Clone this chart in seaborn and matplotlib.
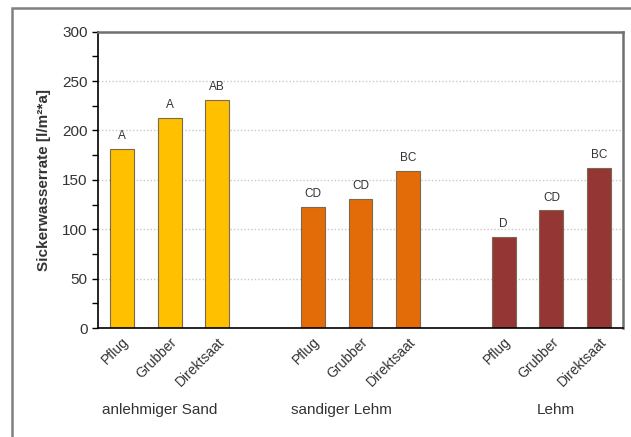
import pandas as pd
import matplotlib.pyplot as plt
from matplotlib.patches import Rectangle
import matplotlib.transforms as mtransforms
import seaborn as sns

soils = ["anlehmiger Sand", "sandiger Lehm", "Lehm"]
methods = ["Pflug", "Grubber", "Direktsaat"]
values_sand = [181, 213, 231]
values_sandlehm = [123, 131, 159]
values_lehm = [92, 119, 162]
letters = ["A", "A", "AB", "CD", "CD", "BC", "D", "CD", "BC"]
colors = ["#FFC000", "#E36C09", "#943634"]

# slot positions with one empty slot between the soil groups
positions = [0, 1, 2, 4, 5, 6, 8, 9, 10]

df = pd.DataFrame({
    "pos": positions,
    "value": values_sand + values_sandlehm + values_lehm,
    "soil": [s for s in soils for _ in methods],
    "method": methods * 3,
})

sns.set_style("white")
plt.rcParams["font.family"] = ["Liberation Sans", "DejaVu Sans"]

fig = plt.figure(figsize=(6.31, 4.37), dpi=100)
ax = fig.add_axes([0.1553, 0.2494, 0.8320, 0.6781])

sns.barplot(data=df, x="pos", y="value", hue="soil", native_scale=True,
            dodge=False, width=0.5, palette=colors, saturation=1, legend=False,
            edgecolor="#7a6a50", linewidth=0.8, ax=ax)

ax.set_xlim(-0.5, 10.5)
ax.set_ylim(0, 300)
ax.set_yticks(range(0, 301, 50))
ax.set_yticks(range(25, 300, 50), minor=True)
ax.yaxis.grid(True, which="major", linestyle=(0, (1, 1.5)), color="#c8c8c8", linewidth=1)
ax.set_axisbelow(True)

ax.set_xticks(positions)
ax.set_xticklabels(methods * 3, rotation=45, ha="right", rotation_mode="anchor",
                   fontsize=10, color="#333333")
ax.set_xticks([p - 0.5 for p in range(12)], minor=True)
ax.tick_params(axis="x", which="major", length=0, pad=5)
ax.tick_params(axis="x", which="minor", length=4, width=1, direction="out", color="black")
ax.tick_params(axis="y", which="both", length=4, width=1, direction="out", color="black",
               left=True, labelsize=11, labelcolor="#333333")
ax.set_xlabel("")
ax.set_ylabel("Sickerwasserrate [l/m²*a]", fontsize=11, fontweight="bold",
              labelpad=8, color="#333333")

for side in ["left", "bottom"]:
    ax.spines[side].set_color("black")
    ax.spines[side].set_linewidth(1.2)
for side in ["top", "right"]:
    ax.spines[side].set_color("#707070")
    ax.spines[side].set_linewidth(1.8)

for p, v, t in zip(df["pos"], df["value"], letters):
    ax.annotate(t, (p, v), xytext=(0, 5), textcoords="offset points",
                ha="center", va="bottom", fontsize=8.5, color="#333333")

trans = mtransforms.blended_transform_factory(ax.transData, ax.transAxes)
for x, s in zip([0.8, 4.6, 9.1], soils):
    ax.text(x, -0.275, s, transform=trans, ha="center", va="center",
            fontsize=11, color="#333333")

fig.patches.append(Rectangle((12 / 631, -0.05), 1.2, 1 - 8 / 437 + 0.05,
                             transform=fig.transFigure, fill=False,
                             edgecolor="#808080", linewidth=1.8))

fig.savefig("out.png", dpi=100)
